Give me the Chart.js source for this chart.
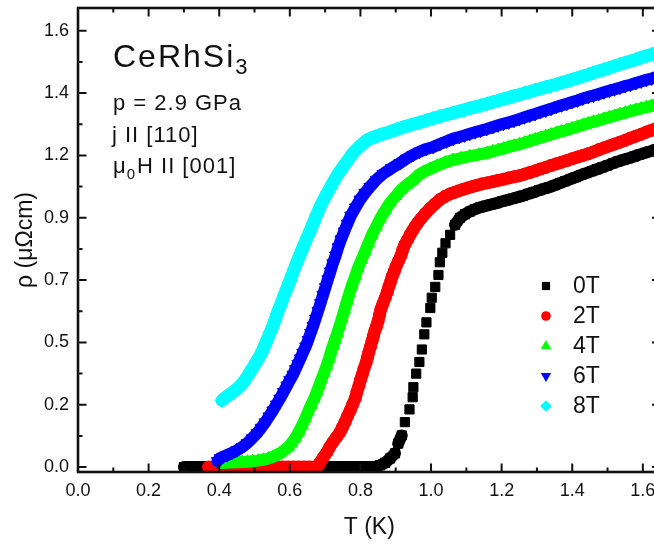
<!DOCTYPE html>
<html>
<head>
<meta charset="utf-8">
<title>CeRhSi3 resistivity</title>
<script src="https://cdn.jsdelivr.net/npm/chart.js"></script>
<style>
  html, body { margin: 0; padding: 0; background: #fff; overflow: hidden; }
  canvas { display: block; }
</style>
</head>
<body>
<canvas id="c" width="670" height="547"></canvas>
<script>
const FONT = '"Liberation Sans", Arial, Helvetica, sans-serif';
const INK = '#111111';

// Axis ticks (temperature in K, resistivity in µΩcm)
const xTickValues = [0, 0.2, 0.4, 0.6, 0.8, 1.0, 1.2, 1.4, 1.6];
const xTickLabels = ['0.0', '0.2', '0.4', '0.6', '0.8', '1.0', '1.2', '1.4', '1.6'];
const xMinorTicks = [0.1, 0.3, 0.5, 0.7, 0.9, 1.1, 1.3, 1.5];
const yTickValues = [0, 0.23, 0.46, 0.69, 0.92, 1.15, 1.38, 1.61];
const yTickLabels = ['0.0', '0.2', '0.5', '0.7', '0.9', '1.2', '1.4', '1.6'];
const yMinorTicks = [0.115, 0.345, 0.575, 0.805, 1.035, 1.265, 1.495];

// Applied fields
const fieldLabels = ['0T', '2T', '4T', '6T', '8T'];

// rho(T) at each field: [T (K), rho (µΩcm)]
const rho0T = [
  [0.300,0],[0.315,0],[0.330,0],[0.345,0],[0.360,0],[0.375,0],[0.390,0],[0.405,0],[0.420,0],[0.435,0],
  [0.450,0],[0.465,0],[0.480,0],[0.495,0],[0.510,0],[0.525,0],[0.540,0],[0.555,0],[0.570,0],[0.585,0],
  [0.600,0],[0.615,0],[0.630,0],[0.645,0],[0.660,0],[0.675,0],[0.690,0],[0.705,0],[0.720,0],[0.735,0],
  [0.750,0],[0.765,0],[0.780,0],[0.795,0],[0.810,0],[0.825,0],[0.840,0],
  [0.856,0.007],[0.870,0.016],[0.884,0.032],[0.898,0.051],[0.907,0.087],[0.917,0.117],[0.926,0.166],
  [0.939,0.213],[0.948,0.258],[0.950,0.295],[0.958,0.345],[0.967,0.388],[0.974,0.434],[0.981,0.490],
  [0.987,0.534],[0.998,0.587],[1.002,0.625],[1.012,0.665],[1.021,0.709],[1.025,0.756],[1.032,0.791],
  [1.041,0.826],[1.054,0.857],[1.068,0.894],[1.082,0.920],[1.096,0.933],[1.110,0.943],[1.125,0.952],
  [1.140,0.959],[1.155,0.964],[1.170,0.969],[1.185,0.974],[1.200,0.980],[1.215,0.985],[1.230,0.990],
  [1.245,0.996],[1.260,1.001],[1.275,1.008],[1.290,1.014],[1.305,1.021],[1.320,1.027],[1.335,1.033],
  [1.350,1.040],[1.365,1.048],[1.380,1.055],[1.395,1.063],[1.410,1.070],[1.425,1.078],[1.440,1.085],
  [1.455,1.092],[1.470,1.099],[1.485,1.106],[1.500,1.113],[1.515,1.121],[1.530,1.128],[1.545,1.134],
  [1.560,1.140],[1.575,1.146],[1.590,1.153],[1.605,1.159],[1.620,1.165],[1.635,1.171],[1.650,1.177]
];

const rho2T = [
  [0.370,0],[0.385,0],[0.400,0],[0.415,0],[0.430,0],[0.445,0],[0.460,0],[0.475,0],[0.490,0],[0.505,0],
  [0.520,0],[0.535,0],[0.550,0],[0.565,0],[0.580,0],[0.595,0],[0.610,0],[0.625,0],[0.640,0],[0.655,0],[0.670,0],
  [0.677,0.000],[0.682,0.008],[0.686,0.018],[0.695,0.036],[0.705,0.055],[0.713,0.074],[0.722,0.092],
  [0.732,0.110],[0.742,0.128],[0.749,0.147],[0.756,0.165],[0.763,0.187],[0.771,0.209],[0.778,0.231],
  [0.785,0.253],[0.790,0.277],[0.796,0.301],[0.800,0.321],[0.805,0.341],[0.810,0.363],[0.816,0.385],
  [0.820,0.405],[0.824,0.425],[0.829,0.446],[0.833,0.466],[0.837,0.485],[0.841,0.503],[0.846,0.521],
  [0.850,0.539],[0.854,0.561],[0.858,0.583],[0.864,0.604],[0.870,0.624],[0.876,0.646],[0.881,0.668],
  [0.886,0.686],[0.890,0.704],[0.896,0.723],[0.901,0.741],[0.908,0.761],[0.915,0.781],[0.920,0.802],
  [0.926,0.822],[0.934,0.840],[0.941,0.858],[0.948,0.873],[0.955,0.888],[0.963,0.903],[0.972,0.917],
  [0.984,0.936],[0.997,0.954],[1.011,0.971],[1.025,0.987],[1.040,0.999],[1.054,1.008],[1.065,1.013],
  [1.078,1.019],[1.091,1.025],[1.104,1.030],[1.117,1.035],[1.130,1.040],
  [1.145,1.045],[1.160,1.049],[1.175,1.053],[1.190,1.058],[1.205,1.062],[1.220,1.067],[1.235,1.071],
  [1.250,1.075],[1.265,1.081],[1.280,1.087],[1.295,1.093],[1.310,1.100],[1.325,1.106],[1.340,1.113],
  [1.355,1.119],[1.370,1.125],[1.385,1.131],[1.400,1.138],[1.415,1.144],[1.430,1.150],[1.445,1.156],
  [1.460,1.163],[1.475,1.171],[1.490,1.178],[1.505,1.185],[1.520,1.192],[1.535,1.199],[1.550,1.206],
  [1.565,1.214],[1.580,1.221],[1.595,1.228],[1.610,1.236],[1.625,1.243],[1.640,1.251],[1.650,1.256]
];

const rho4T = [
  [0.405,0.015],[0.420,0.016],[0.435,0.017],[0.450,0.018],[0.465,0.019],[0.480,0.020],[0.495,0.022],
  [0.510,0.024],[0.525,0.027],[0.540,0.032],[0.552,0.038],[0.562,0.044],[0.572,0.051],[0.584,0.062],
  [0.595,0.073],[0.605,0.089],[0.615,0.106],[0.625,0.130],[0.635,0.154],[0.644,0.180],[0.652,0.205],
  [0.660,0.229],[0.669,0.253],[0.676,0.277],[0.683,0.301],[0.690,0.325],[0.697,0.348],[0.704,0.374],
  [0.711,0.400],[0.716,0.424],[0.722,0.447],[0.728,0.470],[0.734,0.492],[0.741,0.521],[0.748,0.550],
  [0.755,0.582],[0.762,0.613],[0.769,0.642],[0.776,0.671],[0.785,0.703],[0.793,0.734],[0.803,0.765],
  [0.813,0.796],[0.823,0.827],[0.833,0.858],[0.845,0.888],[0.856,0.917],[0.870,0.947],[0.884,0.976],
  [0.900,1.000],[0.915,1.023],[0.932,1.042],[0.949,1.058],[0.965,1.078],[0.980,1.090],[0.997,1.100],
  [1.017,1.112],[1.040,1.124],[1.062,1.133],[1.085,1.140],[1.110,1.147],[1.135,1.153],[1.159,1.159],
  [1.175,1.165],[1.190,1.170],[1.205,1.175],[1.220,1.181],[1.235,1.186],[1.250,1.191],[1.265,1.197],
  [1.280,1.203],[1.295,1.209],[1.310,1.215],[1.325,1.221],[1.340,1.227],[1.355,1.233],[1.370,1.239],
  [1.385,1.244],[1.400,1.250],[1.415,1.256],[1.430,1.262],[1.445,1.268],[1.460,1.274],[1.475,1.279],
  [1.490,1.285],[1.505,1.291],[1.520,1.296],[1.535,1.302],[1.550,1.307],[1.565,1.313],[1.580,1.318],
  [1.595,1.323],[1.610,1.328],[1.625,1.333],[1.640,1.339],[1.650,1.342]
];

const rho6T = [
  [0.395,0.022],[0.403,0.033],[0.410,0.038],[0.422,0.044],[0.436,0.053],[0.450,0.062],[0.465,0.074],
  [0.479,0.088],[0.493,0.106],[0.507,0.125],[0.519,0.145],[0.530,0.165],[0.541,0.187],[0.552,0.209],
  [0.562,0.231],[0.572,0.253],[0.582,0.277],[0.592,0.301],[0.600,0.321],[0.609,0.341],[0.616,0.361],
  [0.623,0.381],[0.630,0.401],[0.637,0.422],[0.645,0.445],[0.652,0.469],[0.659,0.495],[0.666,0.521],
  [0.673,0.548],[0.680,0.576],[0.687,0.605],[0.694,0.635],[0.701,0.664],[0.708,0.693],[0.715,0.722],
  [0.722,0.752],[0.730,0.781],[0.737,0.811],[0.745,0.840],[0.754,0.869],[0.763,0.898],[0.773,0.928],
  [0.786,0.958],[0.799,0.987],[0.813,1.012],[0.827,1.034],[0.845,1.060],[0.864,1.082],[0.888,1.103],
  [0.912,1.122],[0.930,1.138],[0.949,1.152],[0.968,1.164],[0.987,1.174],[1.006,1.181],[1.025,1.192],
  [1.044,1.202],[1.063,1.212],[1.080,1.218],[1.095,1.224],[1.110,1.230],[1.125,1.236],[1.140,1.241],
  [1.158,1.248],[1.175,1.255],[1.190,1.261],[1.205,1.267],[1.220,1.272],[1.235,1.278],[1.250,1.284],
  [1.265,1.291],[1.280,1.297],[1.295,1.303],[1.310,1.310],[1.325,1.316],[1.340,1.322],[1.355,1.329],
  [1.370,1.335],[1.385,1.341],[1.400,1.347],[1.415,1.353],[1.430,1.360],[1.445,1.366],[1.460,1.371],
  [1.475,1.377],[1.490,1.383],[1.505,1.389],[1.520,1.394],[1.535,1.400],[1.550,1.406],[1.565,1.411],
  [1.580,1.417],[1.595,1.423],[1.610,1.429],[1.625,1.434],[1.640,1.440],[1.650,1.444]
];

const rho8T = [
  [0.408,0.246],[0.416,0.255],[0.425,0.264],[0.435,0.273],[0.445,0.282],[0.458,0.298],[0.470,0.315],
  [0.480,0.336],[0.490,0.356],[0.499,0.374],[0.507,0.392],[0.516,0.412],[0.524,0.433],[0.531,0.455],
  [0.538,0.477],[0.545,0.499],[0.552,0.521],[0.558,0.543],[0.564,0.565],[0.571,0.589],[0.578,0.613],
  [0.585,0.637],[0.592,0.660],[0.599,0.684],[0.606,0.708],[0.613,0.732],[0.620,0.756],[0.628,0.780],
  [0.635,0.803],[0.642,0.825],[0.649,0.847],[0.658,0.873],[0.666,0.899],[0.676,0.930],[0.686,0.961],
  [0.697,0.989],[0.708,1.016],[0.722,1.049],[0.737,1.082],[0.748,1.102],[0.758,1.121],[0.769,1.140],
  [0.779,1.159],[0.789,1.172],[0.799,1.185],[0.809,1.196],[0.819,1.207],[0.830,1.213],[0.841,1.219],
  [0.852,1.224],[0.864,1.229],[0.883,1.237],[0.902,1.246],[0.921,1.254],[0.944,1.263],[0.966,1.271],
  [0.989,1.280],[1.007,1.287],[1.025,1.294],[1.043,1.300],[1.062,1.307],[1.080,1.313],[1.095,1.318],
  [1.110,1.324],[1.125,1.329],[1.140,1.334],[1.159,1.341],[1.175,1.347],[1.190,1.352],[1.205,1.358],
  [1.220,1.363],[1.235,1.369],[1.250,1.374],[1.265,1.380],[1.280,1.385],[1.295,1.391],[1.310,1.396],
  [1.325,1.402],[1.340,1.407],[1.355,1.412],[1.370,1.418],[1.385,1.424],[1.400,1.430],[1.415,1.436],
  [1.430,1.442],[1.445,1.448],[1.460,1.455],[1.475,1.461],[1.490,1.467],[1.505,1.473],[1.520,1.480],
  [1.535,1.486],[1.550,1.492],[1.565,1.498],[1.580,1.504],[1.595,1.511],[1.610,1.517],[1.625,1.523],
  [1.640,1.529],[1.650,1.534]
];

const fieldData = [rho0T, rho2T, rho4T, rho6T, rho8T];

// Marker styling per field
const markerColors = ['#000000', '#ff0000', '#00ff00', '#0000ff', '#00ffff'];
const markerStyles = ['rect', 'circle', 'triangle', 'triangle', 'rectRot'];
const markerRotations = [0, 0, 0, 180, 0];
const markerRadii = [6.5, 6, 7, 7, 7];
const bandWidths = [12, 12.5, 12, 12, 13];
const bandGaps = [9, 1000, 1000, 1000, 1000];
const legendRadii = [5.8, 4.8, 6, 6, 5.8];

// Densely sampled stretches merge into a solid band; sparse steps stay as separate markers
const bandColor = (color, gap) => (seg) => {
  const dx = seg.p1.x - seg.p0.x, dy = seg.p1.y - seg.p0.y;
  return Math.hypot(dx, dy) < gap ? color : 'rgba(0,0,0,0)';
};

const datasets = fieldData.map((rows, i) => ({
  label: fieldLabels[i],
  data: rows.map(([t, r]) => ({ x: t, y: r })),
  showLine: true,
  tension: 0,
  borderWidth: bandWidths[i],
  borderColor: markerColors[i],
  borderJoinStyle: 'round',
  borderCapStyle: 'round',
  segment: { borderColor: bandColor(markerColors[i], bandGaps[i]) },
  pointStyle: markerStyles[i],
  pointRotation: markerRotations[i],
  pointRadius: markerRadii[i],
  pointBackgroundColor: markerColors[i],
  pointBorderColor: markerColors[i],
  pointBorderWidth: 1,
  backgroundColor: markerColors[i],
  order: fieldData.length - i
}));

function fallbackPoint(ctx, style, rot, r, x, y) {
  ctx.save();
  ctx.translate(x, y);
  ctx.rotate(rot * Math.PI / 180);
  ctx.beginPath();
  if (style === 'circle') {
    ctx.arc(0, 0, r, 0, Math.PI * 2);
  } else if (style === 'rect') {
    const s = r * Math.SQRT1_2;
    ctx.rect(-s, -s, 2 * s, 2 * s);
  } else if (style === 'rectRot') {
    ctx.moveTo(0, -r); ctx.lineTo(r, 0); ctx.lineTo(0, r); ctx.lineTo(-r, 0); ctx.closePath();
  } else {
    for (let k = 0; k < 3; k++) {
      const a = k * 2 * Math.PI / 3;
      const px = Math.sin(a) * r, py = -Math.cos(a) * r;
      if (k === 0) ctx.moveTo(px, py); else ctx.lineTo(px, py);
    }
    ctx.closePath();
  }
  ctx.fill();
  ctx.restore();
}

// Closed frame with inward major and minor tick marks on all four sides
const framePlugin = {
  id: 'frameTicks',
  afterDatasetsDraw(chart) {
    const { ctx, chartArea: a, scales: { x, y } } = chart;
    const MAJOR = 8.5, MINOR = 4.5;
    ctx.save();
    ctx.strokeStyle = INK;
    ctx.lineWidth = 2;
    ctx.lineCap = 'butt';
    ctx.beginPath();
    const xt = (v, len) => {
      const p = x.getPixelForValue(v);
      ctx.moveTo(p, a.bottom); ctx.lineTo(p, a.bottom - len);
      ctx.moveTo(p, a.top); ctx.lineTo(p, a.top + len);
    };
    const yt = (v, len) => {
      const p = y.getPixelForValue(v);
      ctx.moveTo(a.left, p); ctx.lineTo(a.left + len, p);
      ctx.moveTo(a.right, p); ctx.lineTo(a.right - len, p);
    };
    xTickValues.forEach(v => xt(v, MAJOR));
    xMinorTicks.forEach(v => xt(v, MINOR));
    yTickValues.forEach(v => yt(v, MAJOR));
    yMinorTicks.forEach(v => yt(v, MINOR));
    ctx.stroke();
    ctx.lineWidth = 2.6;
    ctx.strokeRect(a.left, a.top, a.right - a.left, a.bottom - a.top);
    ctx.restore();
  }
};

// Sample annotation and field legend inside the plot
const notesPlugin = {
  id: 'notes',
  afterDraw(chart) {
    const ctx = chart.ctx;
    ctx.save();
    ctx.fillStyle = INK;
    ctx.textAlign = 'left';
    ctx.textBaseline = 'alphabetic';

    if ('letterSpacing' in ctx) ctx.letterSpacing = '2px';
    ctx.font = '32px ' + FONT;
    ctx.fillText('CeRhSi', 113, 67);
    let w = ctx.measureText('CeRhSi').width;
    ctx.font = '22px ' + FONT;
    ctx.fillText('3', 113 + w, 74);

    if ('letterSpacing' in ctx) ctx.letterSpacing = '1px';
    ctx.font = '22px ' + FONT;
    ctx.fillText('p = 2.9 GPa', 113, 110);
    ctx.fillText('j II [110]', 112, 142);
    ctx.fillText('\u03bc', 113, 173);
    w = ctx.measureText('\u03bc').width;
    ctx.font = '15px ' + FONT;
    ctx.fillText('0', 113 + w, 179);
    const w0 = ctx.measureText('0').width;
    ctx.font = '22px ' + FONT;
    ctx.fillText('H II [001]', 113 + w + w0 + 1, 173);
    if ('letterSpacing' in ctx) ctx.letterSpacing = '0px';

    // legend
    const drawPoint = (Chart.helpers && Chart.helpers.drawPoint) ? Chart.helpers.drawPoint : null;
    ctx.font = '23px ' + FONT;
    ctx.textBaseline = 'middle';
    fieldLabels.forEach((lab, i) => {
      const cy = 286 + i * 30;
      ctx.fillStyle = markerColors[i];
      ctx.strokeStyle = markerColors[i];
      if (drawPoint) {
        drawPoint(ctx, { pointStyle: markerStyles[i], rotation: markerRotations[i], radius: legendRadii[i], borderWidth: 0 }, 546, cy);
      } else {
        fallbackPoint(ctx, markerStyles[i], markerRotations[i], legendRadii[i], 546, cy);
      }
      ctx.fillStyle = INK;
      ctx.fillText(lab, 573, cy + 1);
    });
    ctx.restore();
  }
};

new Chart(document.getElementById('c'), {
  type: 'scatter',
  data: { datasets },
  options: {
    responsive: false,
    animation: false,
    devicePixelRatio: 1,
    layout: { padding: { top: 5, right: 9.5, left: 0, bottom: 0 } },
    plugins: { legend: { display: false }, tooltip: { enabled: false } },
    scales: {
      x: {
        type: 'linear',
        position: 'bottom',
        min: 0,
        max: 1.65,
        grid: { display: false, drawTicks: false },
        border: { display: false },
        afterBuildTicks: s => { s.ticks = xTickValues.map(v => ({ value: v })); },
        afterFit: s => { s.height = 75; s.paddingLeft = 0; s.paddingRight = 0; },
        ticks: {
          autoSkip: false,
          maxRotation: 0,
          padding: 8,
          color: INK,
          font: { family: FONT, size: 18 },
          callback: (v, i) => xTickLabels[i]
        },
        title: {
          display: true,
          text: 'T (K)',
          color: INK,
          font: { family: FONT, size: 23 },
          padding: { top: 0, bottom: 6 }
        }
      },
      y: {
        type: 'linear',
        position: 'left',
        min: -0.018,
        max: 1.694,
        grid: { display: false, drawTicks: false },
        border: { display: false },
        afterBuildTicks: s => { s.ticks = yTickValues.map(v => ({ value: v })); },
        afterFit: s => { s.width = 78; s.paddingTop = 0; s.paddingBottom = 0; },
        ticks: {
          autoSkip: false,
          padding: 9,
          color: INK,
          font: { family: FONT, size: 18 },
          callback: (v, i) => yTickLabels[i]
        },
        title: {
          display: true,
          text: '\u03c1 (\u03bc\u03a9cm)',
          color: INK,
          font: { family: FONT, size: 23 },
          padding: { top: 12, bottom: 0 }
        }
      }
    }
  },
  plugins: [framePlugin, notesPlugin]
});
</script>
</body>
</html>
